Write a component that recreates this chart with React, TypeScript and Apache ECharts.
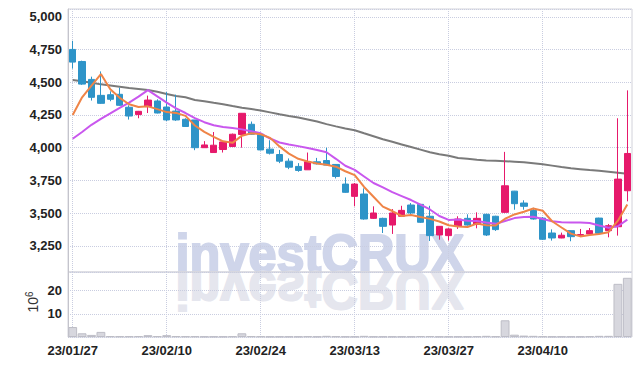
import React, { useEffect, useRef } from 'react';
import * as echarts from 'echarts';

const dates = [
  '23/01/27', '23/01/30', '23/01/31', '23/02/01', '23/02/02', '23/02/03', '23/02/06', '23/02/07', '23/02/08', '23/02/09',
  '23/02/10', '23/02/13', '23/02/14', '23/02/15', '23/02/16', '23/02/17', '23/02/20', '23/02/21', '23/02/22', '23/02/23',
  '23/02/24', '23/02/27', '23/02/28', '23/03/02', '23/03/03', '23/03/06', '23/03/07', '23/03/08', '23/03/09', '23/03/10',
  '23/03/13', '23/03/14', '23/03/15', '23/03/16', '23/03/17', '23/03/20', '23/03/21', '23/03/22', '23/03/23', '23/03/24',
  '23/03/27', '23/03/28', '23/03/29', '23/03/30', '23/03/31', '23/04/03', '23/04/04', '23/04/05', '23/04/06', '23/04/07',
  '23/04/10', '23/04/11', '23/04/12', '23/04/13', '23/04/14', '23/04/17', '23/04/18', '23/04/19', '23/04/20', '23/04/21',
];

const opens = [
  4751, 4659, 4522, 4400, 4405, 4408, 4309, 4253, 4314, 4357,
  4311, 4280, 4217, 4212, 4000, 3963, 3986, 4009, 4101, 4179,
  4103, 3989, 3948, 3897, 3857, 3831, 3892, 3902, 3872, 3722,
  3628, 3646, 3460, 3460, 3409, 3476, 3562, 3567, 3476, 3333,
  3328, 3399, 3460, 3415, 3491, 3476, 3506, 3668, 3577, 3521,
  3462, 3348, 3310, 3366, 3330, 3341, 3462, 3366, 3396, 3671,
];
const closes = [
  4654, 4486, 4385, 4339, 4370, 4324, 4242, 4278, 4364, 4265,
  4212, 4212, 4162, 4000, 4021, 4019, 4044, 4103, 4263, 4103,
  3983, 3958, 3897, 3851, 3826, 3892, 3877, 3867, 3780, 3659,
  3722, 3455, 3501, 3399, 3501, 3521, 3501, 3430, 3328, 3399,
  3379, 3455, 3409, 3460, 3333, 3374, 3709, 3572, 3552, 3455,
  3300, 3310, 3331, 3320, 3336, 3366, 3346, 3404, 3760, 3956,
];
const lows = [
  4604, 4480, 4360, 4335, 4355, 4320, 4215, 4225, 4265, 4262,
  4204, 4205, 4160, 3981, 4000, 3963, 3963, 4005, 4000, 4100,
  3980, 3948, 3882, 3836, 3816, 3831, 3872, 3865, 3765, 3655,
  3552, 3450, 3455, 3348, 3341, 3470, 3480, 3425, 3287, 3297,
  3290, 3379, 3405, 3384, 3325, 3364, 3500, 3526, 3526, 3450,
  3295, 3290, 3308, 3285, 3328, 3336, 3343, 3315, 3328, 3590,
];
const highs = [
  4817, 4665, 4543, 4583, 4431, 4459, 4324, 4281, 4398, 4370,
  4425, 4405, 4225, 4212, 4050, 4120, 4044, 4108, 4265, 4200,
  4103, 4057, 3983, 3918, 3882, 3963, 3922, 4000, 3875, 3773,
  3730, 3689, 3552, 3465, 3531, 3556, 3577, 3567, 3556, 3400,
  3385, 3476, 3491, 3506, 3495, 3480, 3968, 3670, 3598, 3541,
  3470, 3376, 3351, 3368, 3379, 3386, 3465, 3417, 4225, 4438,
];

const ma5 = [
  4250, 4385, 4475, 4563, 4447, 4381, 4332, 4311, 4316, 4295,
  4272, 4266, 4243, 4170, 4121, 4083, 4049, 4037, 4092, 4110,
  4103, 4075, 4010, 3955, 3915, 3895, 3880, 3870, 3855, 3820,
  3790, 3700, 3625, 3550, 3516, 3478, 3485, 3470, 3456, 3436,
  3407, 3398, 3394, 3420, 3407, 3406, 3457, 3490, 3510, 3535,
  3518, 3438, 3390, 3343, 3322, 3333, 3340, 3354, 3442, 3566,
];
const ma20 = [
  4068, 4120, 4175, 4220, 4262, 4305, 4345, 4390, 4440, 4392,
  4345, 4300, 4265, 4226, 4195, 4172, 4158, 4150, 4140, 4126,
  4110, 4070, 4040, 4025, 4012, 3998, 3983, 3965, 3915, 3862,
  3830, 3780, 3730, 3697, 3660, 3630, 3600, 3565, 3528, 3478,
  3448, 3452, 3442, 3440, 3428, 3418, 3440, 3462, 3470, 3472,
  3455, 3438, 3430, 3428, 3428, 3425, 3405, 3388, 3400, 3450,
];
const ma60 = [
  4517, 4507, 4496, 4484, 4475, 4466, 4457, 4449, 4441, 4427,
  4411, 4395, 4385, 4365, 4355, 4343, 4332, 4318, 4305, 4295,
  4285, 4270, 4255, 4242, 4230, 4215, 4200, 4180, 4163, 4147,
  4133, 4110, 4088, 4065, 4045, 4025, 4005, 3985, 3965, 3950,
  3938, 3922, 3915, 3908, 3903, 3900, 3897, 3893, 3889, 3882,
  3874, 3863, 3852, 3843, 3836, 3829, 3823, 3816, 3808, 3800,
];
const volumes = [
  4.3, 1.6, 0.9, 2.2, 0.4, 0.3, 0.3, 0.4, 0.8, 0.4,
  0.8, 0.4, 0.3, 0.3, 0.2, 0.2, 0.2, 0.3, 1.6, 0.4,
  0.3, 0.2, 0.2, 0.2, 0.2, 0.3, 0.2, 0.5, 0.3, 0.2,
  0.2, 0.5, 0.2, 0.2, 0.2, 0.2, 0.2, 0.4, 0.4, 0.2,
  0.2, 0.2, 0.2, 0.3, 0.5, 0.3, 7.2, 1.0, 0.6, 0.5,
  0.3, 0.2, 0.2, 0.2, 0.2, 0.3, 0.5, 0.5, 22.9, 25.5,
];

const FONT = "'Liberation Sans', Arial, sans-serif";
const GRID_LINE = { color: '#c9cde0', type: 'dotted' as const, width: 1 };
const UP = '#e6196b';
const DOWN = '#2e94c8';

export default function App() {
  const ref = useRef<HTMLDivElement>(null);
  useEffect(() => {
    document.body.style.margin = '0';
    const chart = echarts.init(ref.current!, null, { renderer: 'svg' });
    const candle = dates.map((_, i) => [opens[i], closes[i], lows[i], highs[i]]);
    const labelStyle = { color: '#222', fontFamily: FONT, fontSize: 13, fontWeight: 'bold' as const };
    chart.setOption({
      animation: false,
      grid: [
        { left: 68, right: 10, top: 9, height: 263, show: true, borderColor: '#d2d2da', borderWidth: 1 },
        { left: 68, right: 10, top: 272, height: 65, show: true, borderColor: '#d2d2da', borderWidth: 1 },
      ],
      xAxis: [
        {
          type: 'category', data: dates, gridIndex: 0,
          axisLine: { show: false }, axisTick: { show: false }, axisLabel: { show: false },
          splitLine: { show: true, interval: 9, alignWithLabel: true, lineStyle: GRID_LINE },
        },
        {
          type: 'category', data: dates, gridIndex: 1,
          axisLine: { show: false }, axisTick: { show: false },
          axisLabel: { interval: 9, margin: 7, ...labelStyle },
          splitLine: { show: true, interval: 9, alignWithLabel: true, lineStyle: GRID_LINE },
        },
      ],
      yAxis: [
        {
          type: 'value', gridIndex: 0, min: 3050, max: 5060, minInterval: 250, maxInterval: 250,
          axisLine: { show: true, lineStyle: { color: '#c4c4cc' } }, axisTick: { show: false },
          axisLabel: {
            showMinLabel: false, showMaxLabel: false, margin: 6, ...labelStyle,
            formatter: (v: number) => v.toLocaleString('en-US'),
          },
          splitLine: { show: true, lineStyle: GRID_LINE },
        },
        {
          type: 'value', gridIndex: 1, min: 0, max: 28, interval: 10,
          axisLine: { show: true, lineStyle: { color: '#c4c4cc' } }, axisTick: { show: false },
          axisLabel: { showMinLabel: false, showMaxLabel: false, margin: 6, ...labelStyle },
          splitLine: { show: true, lineStyle: GRID_LINE },
        },
      ],
      series: [
        {
          type: 'bar', xAxisIndex: 1, yAxisIndex: 1, data: volumes, barCategoryGap: '6%',
          itemStyle: { color: '#d7d7de', borderColor: '#bdbdc6', borderWidth: 1 }, z: 2,
        },
        {
          type: 'line', data: ma60, symbol: 'none', xAxisIndex: 0, yAxisIndex: 0,
          lineStyle: { color: '#7a7a7a', width: 2 }, z: 3,
        },
        {
          type: 'candlestick', data: candle, xAxisIndex: 0, yAxisIndex: 0, barWidth: 7,
          itemStyle: { color: UP, color0: DOWN, borderColor: UP, borderColor0: DOWN, borderWidth: 1 }, z: 4,
        },
        {
          type: 'line', data: ma20, symbol: 'none', xAxisIndex: 0, yAxisIndex: 0,
          lineStyle: { color: '#c957ee', width: 2 }, z: 5,
        },
        {
          type: 'line', data: ma5, symbol: 'none', xAxisIndex: 0, yAxisIndex: 0,
          lineStyle: { color: '#ef8447', width: 2 }, z: 6,
        },
      ],
      graphic: [
        {
          type: 'text', x: 320, y: 272, scaleX: 0.935, z: -1, silent: true,
          style: {
            x: 0, y: -19, text: 'investCRUX', fontFamily: "'Liberation Sans', Arial, sans-serif",
            fontWeight: 'bold', fontSize: 54, fill: '#cfd5ea', stroke: '#cfd5ea', lineWidth: 2,
            align: 'center', verticalAlign: 'middle',
          },
        },
        {
          type: 'text', x: 320, y: 272, scaleX: 0.935, scaleY: -1, z: -1, silent: true,
          style: {
            x: 0, y: -19, text: 'investCRUX', fontFamily: "'Liberation Sans', Arial, sans-serif",
            fontWeight: 'bold', fontSize: 54, fill: '#e5e6ee', stroke: '#e5e6ee', lineWidth: 2,
            align: 'center', verticalAlign: 'middle',
          },
        },
        {
          type: 'text', x: 32, y: 302, rotation: Math.PI / 2, silent: true,
          style: {
            text: '{a|10}{b|6}', align: 'center', verticalAlign: 'middle',
            rich: {
              a: { fontFamily: FONT, fontSize: 14, fill: '#333', lineHeight: 16, verticalAlign: 'bottom' },
              b: { fontFamily: FONT, fontSize: 10, fill: '#333', lineHeight: 16, verticalAlign: 'top', padding: [0, 0, 6, 0] },
            },
          },
        },
      ],
    });
    return () => chart.dispose();
  }, []);
  return <div ref={ref} style={{ width: 642, height: 366 }} />;
}
